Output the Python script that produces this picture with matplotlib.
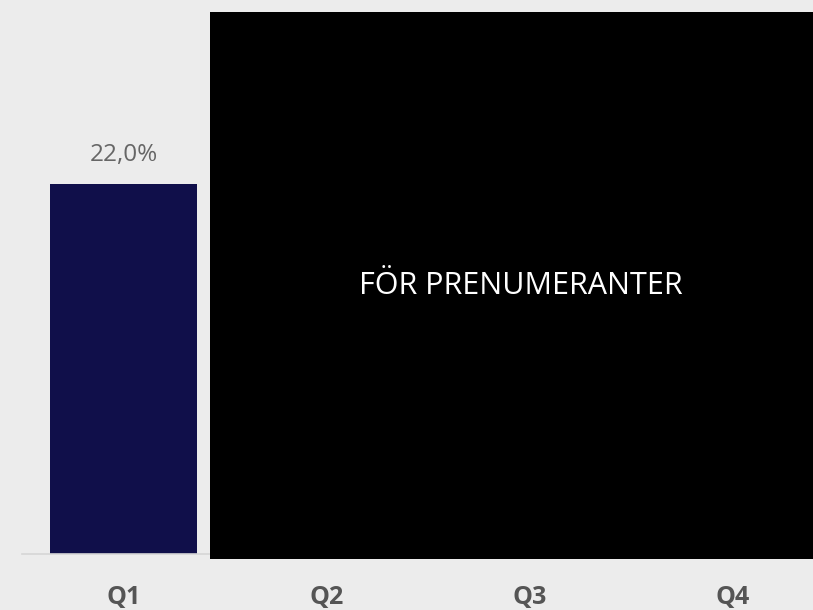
import matplotlib
matplotlib.use("Agg")
import matplotlib.pyplot as plt
from matplotlib.patches import Rectangle
import numpy as np

categories = ["Q1", "Q2", "Q3", "Q4"]
values = [22.0, np.nan, np.nan, np.nan]
value_labels = ["22,0%", "", "", ""]
overlay_text = "FÖR PRENUMERANTER"

BG = "#ececec"
BAR = "#100f4a"

plt.rcParams['font.family'] = ['Open Sans', 'DejaVu Sans']

fig = plt.figure(figsize=(8.13, 6.10), dpi=100, facecolor=BG)
W, H = 813, 610
ax = fig.add_axes([22 / W, 1 - 554 / H, (813 - 22) / W, (554 - 12) / H])
ax.set_facecolor(BG)

x = np.arange(len(categories))
vals = np.array(values, dtype=float)
bars = ax.bar(x, np.nan_to_num(vals), width=0.725, color=BAR, zorder=2)
for xi, v, lab in zip(x, vals, value_labels):
    if not np.isnan(v):
        ax.annotate(lab, (xi, v), xytext=(0, 12), textcoords="offset points",
                    ha="center", va="bottom", fontsize=17.5, color="#666666")

ax.set_xlim(-0.5, -0.5 + (813 - 22) / 203)
ax.set_ylim(0, 32.2)
ax.set_xticks(x)
ax.set_xticklabels(categories, fontsize=18, fontweight="bold", color="#555555")
ax.tick_params(axis="x", length=0, pad=22)
ax.set_yticks([])
for s in ["top", "right", "left"]:
    ax.spines[s].set_visible(False)
ax.spines["bottom"].set_color("#d6d6d6")
ax.spines["bottom"].set_linewidth(1.2)

# paywall overlay
fig.add_artist(Rectangle((210 / W, 1 - 559 / H), (813 - 210) / W, (559 - 12) / H,
                         transform=fig.transFigure, facecolor="black",
                         edgecolor="none", zorder=10))
fig.text(521 / W, 1 - 286 / H, overlay_text, color="white", fontsize=22,
         ha="center", va="center", zorder=11)

fig.savefig("out.png", dpi=100, facecolor=BG)
